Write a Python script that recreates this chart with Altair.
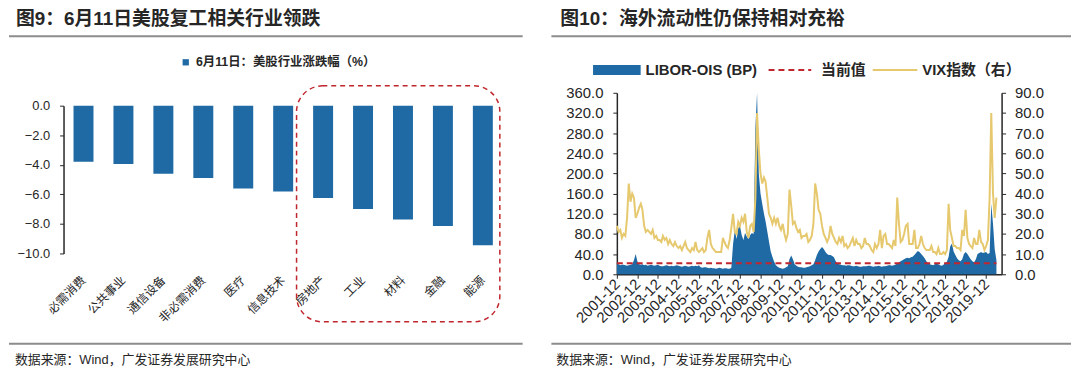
import altair as alt
import pandas as pd

# ---------------- data: left panel ----------------
SECTORS = ["必需消费", "公共事业", "通信设备", "非必需消费", "医疗", "信息技术",
           "房地产", "工业", "材料", "金融", "能源"]
CHANGES = [-3.8, -3.95, -4.6, -4.9, -5.6, -5.8, -6.25, -7.0, -7.7, -8.15, -9.45]
LEGEND_L = "6月11日：美股行业涨跌幅（%）"
Y_TICKS_L = [0, -2, -4, -6, -8, -10]

# ---------------- data: right panel (monthly, 2001-12 .. 2020-06) ----------------
LIBOR_2001 = [24]
LIBOR_2002 = [20, 18, 19, 19, 18, 17, 18, 19, 20, 28, 40, 26]
LIBOR_2003 = [20, 19, 20, 18, 19, 17, 18, 19, 18, 17, 18, 19]
LIBOR_2004 = [17, 16, 16, 17, 18, 17, 16, 17, 16, 17, 18, 17]
LIBOR_2005 = [16, 15, 16, 17, 16, 15, 16, 17, 16, 17, 16, 18]
LIBOR_2006 = [14, 13, 14, 14, 13, 12, 13, 12, 12, 11, 12, 13]
LIBOR_2007 = [12, 11, 12, 12, 11, 11, 13, 60, 88, 70, 92, 96]
LIBOR_2008 = [78, 68, 82, 75, 70, 78, 82, 80, 290, 360, 200, 160]
LIBOR_2009 = [140, 120, 105, 85, 65, 45, 35, 25, 18, 15, 13, 12]
LIBOR_2010 = [11, 12, 14, 16, 30, 37, 30, 20, 17, 15, 14, 14]
LIBOR_2011 = [13, 13, 14, 15, 16, 18, 20, 28, 38, 45, 50, 54]
LIBOR_2012 = [50, 44, 40, 38, 38, 36, 34, 26, 22, 20, 19, 18]
LIBOR_2013 = [18, 17, 18, 18, 17, 16, 16, 17, 16, 15, 15, 16]
LIBOR_2014 = [16, 16, 17, 17, 16, 15, 16, 16, 17, 16, 15, 16]
LIBOR_2015 = [16, 17, 18, 18, 17, 18, 19, 22, 24, 26, 28, 30]
LIBOR_2016 = [32, 33, 32, 34, 35, 38, 42, 46, 44, 40, 36, 32]
LIBOR_2017 = [26, 22, 20, 19, 18, 20, 21, 20, 18, 17, 19, 22]
LIBOR_2018 = [25, 35, 55, 61, 45, 38, 32, 28, 26, 30, 40, 44]
LIBOR_2019 = [40, 35, 30, 26, 24, 30, 40, 42, 44, 42, 43, 44]
LIBOR_2020 = [40, 42, 140, 100, 50, 28]

VIX_2001 = [24]
VIX_2002 = [21, 22, 18, 20, 19, 28, 45, 36, 40, 38, 28, 30]
VIX_2003 = [33, 35, 32, 24, 21, 22, 21, 20, 22, 18, 19, 17]
VIX_2004 = [17, 16, 19, 17, 18, 15, 17, 15, 14, 16, 14, 13]
VIX_2005 = [14, 12, 14, 16, 13, 12, 11, 13, 12, 16, 12, 11]
VIX_2006 = [12, 13, 11, 12, 18, 22, 15, 13, 12, 11, 11, 11]
VIX_2007 = [11, 18, 16, 14, 13, 17, 23, 30, 21, 20, 26, 24]
VIX_2008 = [28, 26, 30, 21, 18, 24, 25, 21, 38, 80, 62, 50]
VIX_2009 = [45, 48, 46, 38, 30, 28, 25, 28, 25, 28, 24, 22]
VIX_2010 = [25, 20, 17, 20, 42, 34, 25, 26, 23, 21, 22, 18]
VIX_2011 = [19, 19, 20, 16, 17, 19, 25, 45, 40, 32, 30, 24]
VIX_2012 = [20, 18, 16, 18, 24, 20, 18, 16, 15, 18, 16, 19]
VIX_2013 = [14, 15, 13, 14, 16, 18, 14, 17, 15, 15, 13, 14]
VIX_2014 = [18, 15, 15, 14, 12, 11, 15, 13, 15, 22, 13, 19]
VIX_2015 = [20, 15, 15, 14, 13, 17, 14, 38, 25, 16, 17, 20]
VIX_2016 = [24, 25, 15, 15, 15, 22, 13, 13, 15, 19, 15, 13]
VIX_2017 = [12, 12, 12, 14, 11, 11, 10, 13, 10, 10, 11, 10]
VIX_2018 = [12, 35, 22, 18, 14, 14, 13, 13, 12, 22, 19, 32]
VIX_2019 = [18, 15, 14, 13, 18, 15, 15, 22, 16, 15, 12, 14]
VIX_2020 = [17, 38, 80, 40, 28, 38]

CURRENT_VALUE = 22.0
START_MONTH = "2001-12-01"
YEAR_TICKS = list(range(2001, 2020))
Y_TICKS_R1 = list(range(0, 361, 40))
Y_TICKS_R2 = list(range(0, 91, 10))

TITLE_L = "图9：6月11日美股复工相关行业领跌"
TITLE_R = "图10：海外流动性仍保持相对充裕"
SOURCE = "数据来源：Wind，广发证券发展研究中心"
LEG_R = ["LIBOR-OIS (BP)", "当前值", "VIX指数（右）"]

# ---------------- styles ----------------
BLUE = "#1f6aa5"
RED = "#c0262d"
YELLOW = "#e6c86e"
DARK = "#262626"
GREY = "#8c8c8c"
FONT = "Liberation Sans, Noto Sans CJK SC"
CJK = "Noto Sans CJK SC"

LIBOR_OIS = (LIBOR_2001 + LIBOR_2002 + LIBOR_2003 + LIBOR_2004 + LIBOR_2005 + LIBOR_2006
             + LIBOR_2007 + LIBOR_2008 + LIBOR_2009 + LIBOR_2010 + LIBOR_2011 + LIBOR_2012
             + LIBOR_2013 + LIBOR_2014 + LIBOR_2015 + LIBOR_2016 + LIBOR_2017 + LIBOR_2018
             + LIBOR_2019 + LIBOR_2020)
VIX = (VIX_2001 + VIX_2002 + VIX_2003 + VIX_2004 + VIX_2005 + VIX_2006 + VIX_2007
       + VIX_2008 + VIX_2009 + VIX_2010 + VIX_2011 + VIX_2012 + VIX_2013 + VIX_2014
       + VIX_2015 + VIX_2016 + VIX_2017 + VIX_2018 + VIX_2019 + VIX_2020)

DUMMY = pd.DataFrame({"d": [0]})


def deco_text(text, x, y, size, weight="normal", align="left", font=FONT, color=DARK):
    return alt.Chart(DUMMY).mark_text(
        text=text, align=align, baseline="middle", fontSize=size,
        fontWeight=weight, font=font, color=color
    ).encode(x=alt.value(x), y=alt.value(y))


def deco_rule(x1, x2, y, color, width, dash=None):
    kw = dict(color=color, strokeWidth=width)
    if dash:
        kw["strokeDash"] = dash
    return alt.Chart(DUMMY).mark_rule(**kw).encode(
        x=alt.value(x1), x2=alt.value(x2), y=alt.value(y))


# ================= left panel =================
WL, H = 443, 183
df_l = pd.DataFrame({"sector": SECTORS, "change": CHANGES, "series": LEGEND_L})

bars = alt.Chart(df_l).mark_bar(width=alt.RelativeBandSize(0.5)).encode(
    x=alt.X("sector:N", sort=SECTORS, title=None,
            scale=alt.Scale(paddingInner=0, paddingOuter=0),
            axis=alt.Axis(orient="bottom", offset=-170, labels=False, domainColor=DARK,
                          domainWidth=1.5, tickColor=DARK, tickSize=4, tickWidth=1.2,
                          tickBand="extent")),
    y=alt.Y("change:Q", title=None,
            scale=alt.Scale(domain=[-10, 0], range=[162, 13], nice=False, zero=False),
            axis=alt.Axis(values=Y_TICKS_L, format=".1f", labelFontSize=13, labelFont=FONT,
                          labelColor=DARK, domainColor=DARK, domainWidth=1.5, tickColor=DARK,
                          tickSize=4, grid=False, labelPadding=10)),
    color=alt.Color("series:N", scale=alt.Scale(range=[BLUE]),
                    legend=alt.Legend(orient="none", legendX=117, legendY=-37, title=None,
                                      symbolType="square", symbolSize=40, labelFontSize=12.5,
                                      labelFontWeight="bold", labelFont=FONT, labelColor=DARK,
                                      labelLimit=0, padding=0, symbolStrokeWidth=0)),
)

xlabels = alt.Chart(df_l).mark_text(
    angle=315, align="right", baseline="middle", fontSize=12, font=CJK, color=DARK
).encode(x=alt.X("sector:N", sort=SECTORS, axis=None), y=alt.value(187), text="sector:N")

box = alt.Chart(DUMMY).mark_rect(
    fillOpacity=0, stroke=RED, strokeWidth=1.5, strokeDash=[5, 4], cornerRadius=26
).encode(x=alt.value(235), x2=alt.value(440), y=alt.value(-7), y2=alt.value(231))

left = alt.layer(
    deco_rule(-55, -54, -83, "#ffffff", 1),
    deco_text(TITLE_L, -48, -74, 19, weight="bold"),
    deco_rule(-55, 463, -57, GREY, 2),
    bars, xlabels, box,
    deco_rule(-55, 463, 253, GREY, 2),
    deco_text(SOURCE, -49, 269, 13),
).properties(width=WL, height=H)

# ================= right panel =================
WR = 388
df_r = pd.DataFrame({
    "date": pd.date_range(START_MONTH, periods=len(LIBOR_OIS), freq="MS"),
    "libor": LIBOR_OIS,
    "vix": VIX,
    "current": CURRENT_VALUE,
})

x_r = alt.X("date:T", title=None,
            scale=alt.Scale(domain=[alt.DateTime(year=2001, month=12, date=1),
                                    alt.DateTime(year=2020, month=9, date=1)]),
            axis=alt.Axis(values=[alt.DateTime(year=y, month=12, date=1) for y in YEAR_TICKS],
                          format="%Y-%m", labelAngle=-45, labelFontSize=15, labelFont=FONT,
                          labelColor=DARK, labelOverlap=False, labelFlush=False,
                          labelAlign="right", labelBaseline="middle", labelPadding=3,
                          domainColor=DARK, domainWidth=1.5, tickColor=DARK, tickSize=4,
                          grid=False))

area = alt.Chart(df_r).mark_area(color=BLUE, opacity=1).encode(
    x=x_r,
    y=alt.Y("libor:Q", title=None, scale=alt.Scale(domain=[0, 360], nice=False),
            axis=alt.Axis(values=Y_TICKS_R1, format=".1f", labelFontSize=15, labelFont=FONT,
                          labelColor=DARK, domainColor=DARK, domainWidth=1.5,
                          tickColor=DARK, tickSize=4, grid=False, labelPadding=10)),
)
current = alt.Chart(df_r).mark_line(color=RED, strokeDash=[6, 4], strokeWidth=2).encode(
    x=x_r,
    y=alt.Y("current:Q", scale=alt.Scale(domain=[0, 360], nice=False), axis=None),
)
vix_line = alt.Chart(df_r).mark_line(color=YELLOW, strokeWidth=2).encode(
    x=x_r,
    y=alt.Y("vix:Q", title=None, scale=alt.Scale(domain=[0, 90], nice=False),
            axis=alt.Axis(orient="right", values=Y_TICKS_R2, format=".1f", labelFontSize=15,
                          labelFont=FONT, labelColor=DARK, domainColor=DARK, domainWidth=1.5,
                          tickColor=DARK, tickSize=4, grid=False, labelPadding=9)),
)

leg_swatch = alt.Chart(DUMMY).mark_rect(color=BLUE).encode(
    x=alt.value(-24), x2=alt.value(24), y=alt.value(-28), y2=alt.value(-18))

right = alt.layer(
    area, current, vix_line,
    deco_rule(-66, -65, -83, "#ffffff", 1),
    deco_text(TITLE_R, -57, -74, 19, weight="bold"),
    deco_rule(-66, 458, -57, GREY, 2),
    leg_swatch,
    deco_text(LEG_R[0], 29, -23, 15, weight="bold"),
    deco_rule(153, 196, -23, RED, 2, dash=[6, 4]),
    deco_text(LEG_R[1], 206, -23, 15, weight="bold"),
    deco_rule(258, 303, -23, YELLOW, 2),
    deco_text(LEG_R[2], 308, -23, 15, weight="bold"),
    deco_rule(-66, 458, 253, GREY, 2),
    deco_text(SOURCE, -61, 269, 13),
).resolve_scale(y="independent").properties(width=WR, height=H)

chart = alt.hconcat(left, right, spacing=27).properties(
    padding=0, background="white"
).configure_view(stroke=None)

chart.save("out.html", embed_options={"renderer": "svg", "actions": False})
